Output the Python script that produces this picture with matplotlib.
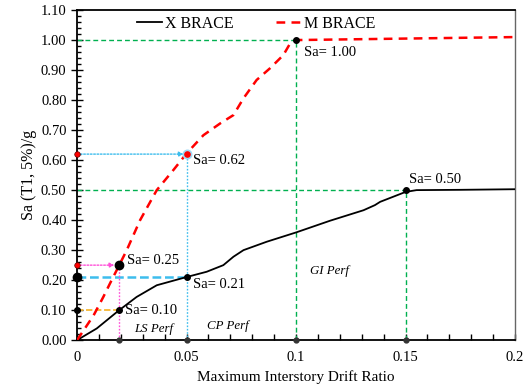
import numpy as np
import matplotlib
matplotlib.use('Agg')
import matplotlib.pyplot as plt
from matplotlib.ticker import MultipleLocator, FixedLocator, FixedFormatter

plt.rcParams['font.family'] = ['Liberation Serif', 'DejaVu Serif']

# X BRACE curve (drift ratio, Sa)
xbrace_drift = [0, 0.009, 0.0189, 0.0272, 0.0364, 0.0493, 0.0592, 0.0668, 0.0714,
                0.076, 0.0866, 0.100, 0.1155, 0.1308, 0.136, 0.1384, 0.150, 0.155,
                0.175, 0.200]
xbrace_sa = [0, 0.039, 0.098, 0.144, 0.183, 0.209, 0.228, 0.25, 0.278,
             0.30, 0.328, 0.359, 0.398, 0.433, 0.45, 0.461, 0.494, 0.500,
             0.501, 0.503]

# M BRACE curve
mbrace_drift = [0, 0.0076, 0.012, 0.0158, 0.0181, 0.0227, 0.0288, 0.0364, 0.044,
                0.050, 0.0577, 0.0653, 0.0714, 0.076, 0.082, 0.0881, 0.0942,
                0.0973, 0.100, 0.150, 0.200]
mbrace_sa = [0, 0.083, 0.144, 0.20, 0.233, 0.30, 0.40, 0.50, 0.567,
             0.622, 0.683, 0.722, 0.75, 0.806, 0.867, 0.906, 0.95,
             0.989, 1.00, 1.005, 1.01]

# performance points
ls_drift, ls_sa_x, ls_sa_m = 0.019, 0.10, 0.25
cp_drift, cp_sa_x, cp_sa_m = 0.05, 0.21, 0.62
gi_x_drift, gi_x_sa = 0.15, 0.50
gi_m_drift, gi_m_sa = 0.10, 1.00

xticks = [0, 0.05, 0.1, 0.15, 0.2]
xticklabels = ['0', '0.05', '0.1', '0.15', '0.2']

green = '#00B050'
blue = '#3DBDED'
pink = '#FF4FD8'
orange = '#F7B733'
dotted = (0, (1.2, 1.2))

fig = plt.figure(figsize=(5.24, 3.87), dpi=100)
ax = fig.add_axes([0.147, 0.121, 0.836, 0.853])

# green guide lines for the GI level
ax.plot([0, gi_m_drift], [gi_m_sa, gi_m_sa], color=green, lw=1.0, ls=(0, (3.5, 2.2)))
ax.plot([gi_m_drift, gi_m_drift], [0, gi_m_sa], color=green, lw=1.0, ls=(0, (3.5, 2.2)))
ax.plot([0, gi_x_drift], [gi_x_sa, gi_x_sa], color=green, lw=1.0, ls=(0, (3.5, 2.2)))
ax.plot([gi_x_drift, gi_x_drift], [0, gi_x_sa], color=green, lw=1.0, ls=(0, (3.5, 2.2)))

# CP level
ax.plot([0, cp_drift], [cp_sa_x, cp_sa_x], color=blue, lw=1.8, ls=(0, (3.5, 1.5)))
ax.plot([cp_drift, cp_drift], [0, cp_sa_m], color=blue, lw=1.0, ls=dotted)
ax.annotate('', xy=(cp_drift, cp_sa_m), xytext=(0, cp_sa_m),
            arrowprops=dict(arrowstyle='-|>', color=blue, lw=1.0, ls=dotted,
                            mutation_scale=7, shrinkA=0, shrinkB=2))

# LS level
ax.plot([0, ls_drift], [ls_sa_x, ls_sa_x], color=orange, lw=1.3, ls=(0, (3.5, 1.5)))
ax.plot([ls_drift, ls_drift], [0, ls_sa_m], color=pink, lw=1.0, ls=dotted)
ax.annotate('', xy=(ls_drift, ls_sa_m), xytext=(0, ls_sa_m),
            arrowprops=dict(arrowstyle='-|>', color=pink, lw=1.0, ls=dotted,
                            mutation_scale=7, shrinkA=0, shrinkB=3))

# curves
ax.plot(xbrace_drift, xbrace_sa, color='black', lw=1.3, label='X BRACE', zorder=4)
ax.plot(mbrace_drift, mbrace_sa, color='#FF0000', lw=1.8, ls=(0, (3.5, 2.5)),
        label='M BRACE', zorder=4)

# markers on the curves
ax.plot(ls_drift, ls_sa_x, 'o', color='black', ms=4, zorder=5)
ax.plot(ls_drift, ls_sa_m, 'o', color='black', ms=6, zorder=5)
ax.plot(cp_drift, cp_sa_x, 'o', color='black', ms=4, zorder=5)
ax.plot(cp_drift, cp_sa_m, 'o', color='#FF0000', mec='#9FD9F5', mew=1.2, ms=6, zorder=5)
ax.plot(gi_x_drift, gi_x_sa, 'o', color='black', ms=4, zorder=5)
ax.plot(gi_m_drift, gi_m_sa, 'o', color='black', ms=4, zorder=5)

# markers on the axes
ax.plot(0, ls_sa_x, 'o', color='black', ms=4, clip_on=False, zorder=6)
ax.plot(0, cp_sa_x, 'o', color='black', ms=6, clip_on=False, zorder=6)
ax.plot([0, 0], [ls_sa_m, cp_sa_m], 'o', color='#FF0000', mec='#600000', mew=0.5,
        ms=4, clip_on=False, zorder=6)
ax.plot([ls_drift, cp_drift, gi_m_drift, gi_x_drift], [0, 0, 0, 0], 'o',
        color='#333333', ms=3.5, clip_on=False, zorder=6)

# value labels
fs = 10.5
ax.text(0.0219, ls_sa_x, 'Sa= %.2f' % ls_sa_x, fontsize=fs, va='center')
ax.text(0.0227, 0.264, 'Sa= %.2f' % ls_sa_m, fontsize=fs, va='center')
ax.text(0.053, 0.187, 'Sa= %.2f' % cp_sa_x, fontsize=fs, va='center')
ax.text(0.0531, 0.60, 'Sa= %.2f' % cp_sa_m, fontsize=fs, va='center')
ax.text(0.1038, 0.958, 'Sa= %.2f' % gi_m_sa, fontsize=fs, va='center')
ax.text(0.1516, 0.537, 'Sa= %.2f' % gi_x_sa, fontsize=fs, va='center')

ax.text(0.035, 0.037, 'LS Perf', fontsize=9.3, style='italic', ha='center', va='center')
ax.text(0.069, 0.047, 'CP Perf', fontsize=9.3, style='italic', ha='center', va='center')
ax.text(0.1154, 0.23, 'GI Perf', fontsize=9.3, style='italic', ha='center', va='center')

ax.set_xlim(0, 0.2)
ax.set_ylim(0, 1.1)
ax.xaxis.set_major_locator(FixedLocator(xticks))
ax.xaxis.set_major_formatter(FixedFormatter(xticklabels))
ax.xaxis.set_minor_locator(MultipleLocator(0.01))
ax.yaxis.set_major_locator(MultipleLocator(0.1))
ax.yaxis.set_minor_locator(MultipleLocator(0.02))
ax.yaxis.set_major_formatter(plt.FormatStrFormatter('%.2f'))
ax.tick_params(axis='x', which='both', direction='in', length=4, width=1,
               labelsize=10.5, pad=8)
ax.tick_params(axis='y', which='major', direction='inout', length=8, width=1,
               labelsize=10.5)
ax.tick_params(axis='y', which='minor', direction='in', length=3, width=1)

for side in ['left', 'bottom', 'top']:
    ax.spines[side].set_linewidth(1.3)
ax.spines['right'].set_color('#666666')
ax.spines['right'].set_linewidth(1.0)

ax.set_xlabel('Maximum Interstory Drift Ratio', fontsize=11, labelpad=4)
ax.set_ylabel('Sa (T1, 5%)/g', fontsize=11.5, labelpad=3)

ax.legend(ncol=2, frameon=False, loc='center', bbox_to_anchor=(0.409, 0.958),
          fontsize=11.5, handlelength=1.6, handletextpad=0.2, columnspacing=2.6,
          borderpad=0, borderaxespad=0)

plt.savefig('out.png', dpi=100)
